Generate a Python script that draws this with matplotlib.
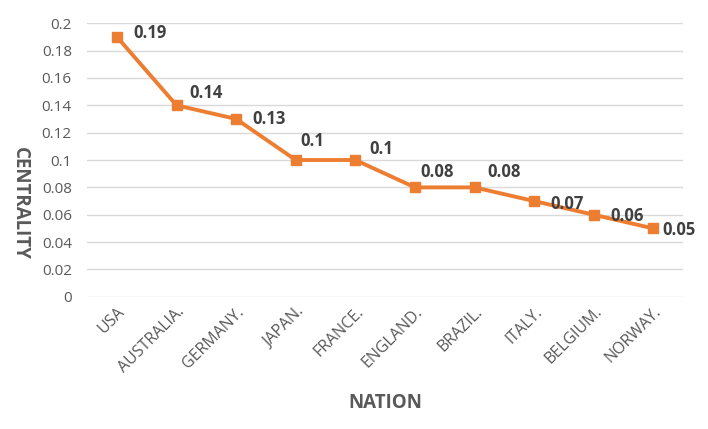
import matplotlib.pyplot as plt

plt.rcParams['font.family'] = ['Open Sans', 'DejaVu Sans']

nations = ['USA', 'AUSTRALIA.', 'GERMANY.', 'JAPAN.', 'FRANCE.',
           'ENGLAND.', 'BRAZIL.', 'ITALY.', 'BELGIUM.', 'NORWAY.']
centrality = [0.19, 0.14, 0.13, 0.10, 0.10, 0.08, 0.08, 0.07, 0.06, 0.05]
value_labels = ['0.19', '0.14', '0.13', '0.1', '0.1', '0.08', '0.08', '0.07', '0.06', '0.05']
yticks = [0, 0.02, 0.04, 0.06, 0.08, 0.1, 0.12, 0.14, 0.16, 0.18, 0.2]

# label offsets in points (dx, dy), like excel's placement
offsets = [(12, 3), (9, 9), (11.5, 0), (3.6, 14), (10, 8), (4, 11), (9, 11), (12, -2), (12, -1), (6.5, -1)]

fig = plt.figure(figsize=(7.08, 4.29), dpi=100)
ax = fig.add_axes([0.123, 0.308, 0.842, 0.638])

x = list(range(len(nations)))
ax.plot(x, centrality, color='#ED7D31', linewidth=2.8, marker='s', markersize=7, zorder=3)

for i, (v, lab) in enumerate(zip(centrality, value_labels)):
    dx, dy = offsets[i]
    ax.annotate(lab, (i, v), xytext=(dx, dy), textcoords='offset points',
                ha='left', va='center', fontsize=12, fontweight='bold', color='#404040')

ax.set_xlim(-0.5, len(nations) - 0.5)
ax.set_ylim(0, 0.2)
ax.set_yticks(yticks)
ax.set_yticklabels(['0' if t == 0 else ('%g' % t) for t in yticks])
ax.set_xticks(x)
ax.set_xticklabels(nations, rotation=45, ha='right', va='top', rotation_mode='anchor')

ax.grid(axis='y', color='#D9D9D9', linewidth=1)
ax.set_axisbelow(True)
for s in ax.spines.values():
    s.set_visible(False)
ax.tick_params(length=0, labelsize=11, labelcolor='#595959')
ax.tick_params(axis='x', labelsize=11.5, pad=5)
ax.tick_params(axis='y', pad=11)

ax.set_xlabel('NATION', fontsize=13.5, fontweight='bold', color='#595959', labelpad=12)
ax.set_ylabel('CENTRALITY', fontsize=13.5, fontweight='bold', color='#595959',
              rotation=270, va='center', ha='center')
ax.yaxis.set_label_coords(-0.112, 0.343)

fig.savefig('out.png', dpi=100)
